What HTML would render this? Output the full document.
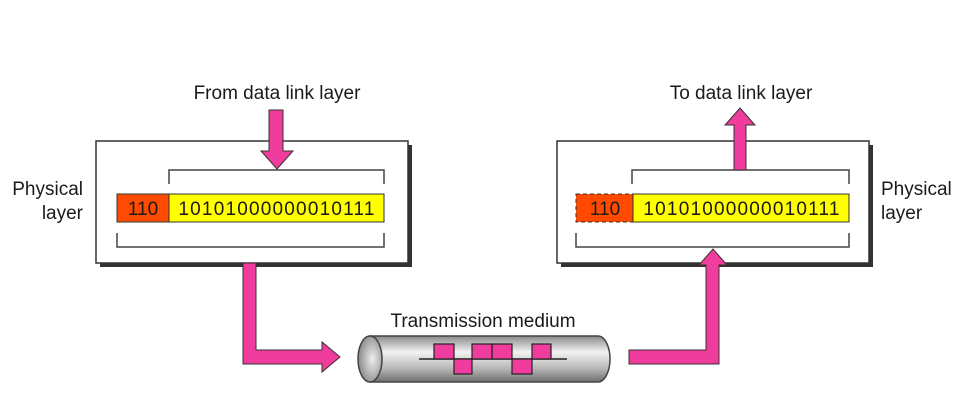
<!DOCTYPE html>
<html><head><style>
body{margin:0;background:#fff;}
svg{display:block;}
text{font-family:"Liberation Sans",sans-serif;fill:#1a1a1a;}
</style></head><body>
<svg width="969" height="406" viewBox="0 0 969 406" xmlns="http://www.w3.org/2000/svg">
<defs>
<linearGradient id="pg" x1="0" y1="0" x2="0" y2="1">
<stop offset="0" stop-color="#8a8a8a"/><stop offset="0.35" stop-color="#f2f2f2"/><stop offset="0.7" stop-color="#b8b8b8"/><stop offset="1" stop-color="#6e6e6e"/>
</linearGradient>
<radialGradient id="eg" cx="0.6" cy="0.5" r="0.6"><stop offset="0" stop-color="#eee"/><stop offset="1" stop-color="#888"/></radialGradient>
</defs>
<!-- left box -->
<rect x="100" y="145" width="312" height="122" fill="#333"/>
<rect x="96" y="141" width="312" height="122" fill="#fff" stroke="#333" stroke-width="1.5"/>
<path d="M169 184 V170 H384 V184" fill="none" stroke="#444" stroke-width="1.5"/>
<path d="M117 233 V247 H384 V233" fill="none" stroke="#444" stroke-width="1.5"/>
<rect x="117" y="194" width="52" height="28" fill="#ff4a00" stroke="#333"/>
<rect x="169" y="194" width="215" height="28" fill="#ffff00" stroke="#333"/>
<text x="143" y="215" font-size="19" text-anchor="middle">110</text>
<text x="277" y="215" font-size="19" text-anchor="middle" letter-spacing="1.2">10101000000010111</text>
<text x="83" y="195" font-size="19" text-anchor="end">Physical</text>
<text x="83" y="219" font-size="19" text-anchor="end">layer</text>
<text x="277" y="99" font-size="19" text-anchor="middle">From data link layer</text>
<path d="M269 110 H283 V151 H293 L277 169 L261 151 H269 Z" fill="#f03c9c" stroke="#333" stroke-width="1"/>
<!-- left down-right arrow -->
<path d="M243 263 H256 V350 H322 V342 L340 357 L322 372 V364 H243 Z" fill="#f03c9c" stroke="#333" stroke-width="1"/>
<!-- right box -->
<rect x="561" y="145" width="312" height="122" fill="#333"/>
<rect x="557" y="141" width="312" height="122" fill="#fff" stroke="#333" stroke-width="1.5"/>
<path d="M632 184 V170 H849 V184" fill="none" stroke="#444" stroke-width="1.5"/>
<path d="M576 233 V247 H849 V233" fill="none" stroke="#444" stroke-width="1.5"/>
<rect x="576" y="194" width="57" height="28" fill="#ff4a00" stroke="#333" stroke-dasharray="4,3"/>
<rect x="633" y="194" width="216" height="28" fill="#ffff00" stroke="#333"/>
<text x="605" y="215" font-size="19" text-anchor="middle">110</text>
<text x="742" y="215" font-size="19" text-anchor="middle" letter-spacing="1.2">10101000000010111</text>
<text x="881" y="195" font-size="19">Physical</text>
<text x="881" y="219" font-size="19">layer</text>
<text x="741" y="99" font-size="19" text-anchor="middle">To data link layer</text>
<path d="M734 170 V125 H725 L740 108 L755 125 H746 V170 Z" fill="#f03c9c" stroke="#333" stroke-width="1"/>
<path d="M629 350 H706 V265 H699 L713 249 L727 265 H719 V364 H629 Z" fill="#f03c9c" stroke="#333" stroke-width="1"/>
<!-- pipe -->
<text x="483" y="327" font-size="19" text-anchor="middle">Transmission medium</text>
<path d="M370 336 H598 A12 23 0 0 1 598 382 H370 Z" fill="url(#pg)" stroke="#444" stroke-width="1.5"/>
<ellipse cx="370" cy="359" rx="12" ry="23" fill="url(#eg)" stroke="#444" stroke-width="1.5"/>
<line x1="419" y1="359" x2="567" y2="359" stroke="#222" stroke-width="1.5"/>
<g fill="#f03c9c" stroke="#222" stroke-width="1.2">
<rect x="434" y="344" width="20" height="15"/>
<rect x="454" y="359" width="18" height="15"/>
<rect x="472" y="344" width="20" height="15"/>
<rect x="492" y="344" width="20" height="15"/>
<rect x="512" y="359" width="20" height="15"/>
<rect x="532" y="344" width="19" height="15"/>
</g>
</svg>
</body></html>
